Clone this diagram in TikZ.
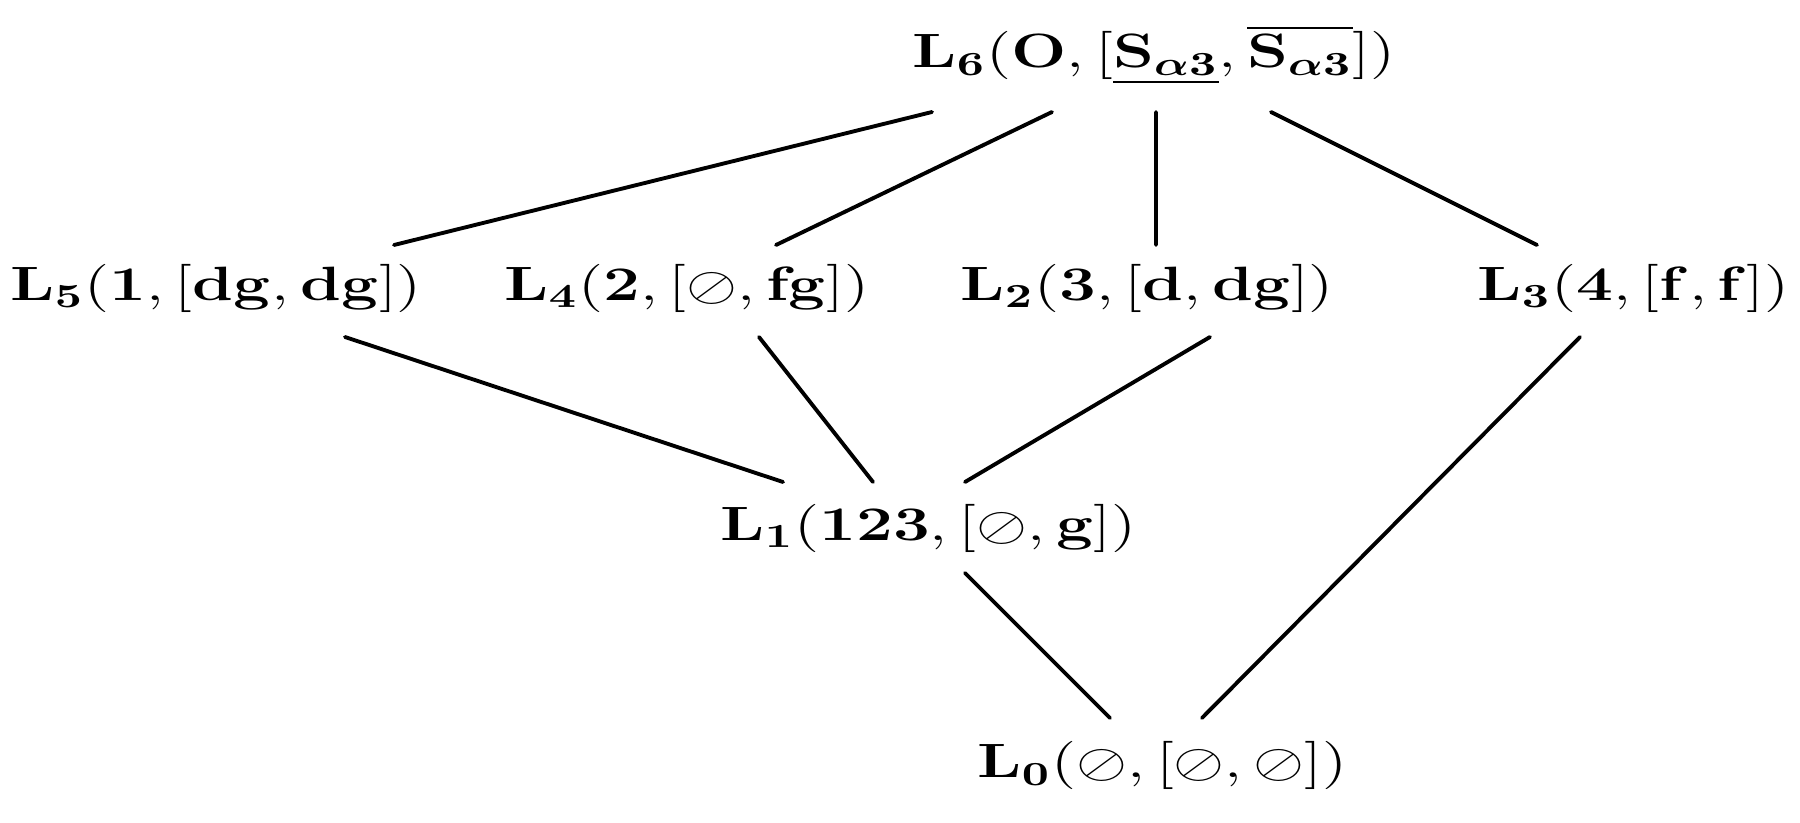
\RequirePackage{fix-cm}
\documentclass[tikz,border=0pt]{standalone}
\usepackage{amsmath,amssymb,bm}
\usepackage{graphicx}
\newcommand{\latlabel}[1]{\scalebox{1.36}[1]{$#1$}}

\begin{document}
\begin{tikzpicture}[
    % lattice elements
    elem/.style={anchor=base west, inner sep=0pt, font=\fontsize{13.7}{16}\selectfont},
    % cover relations
    cover/.style={line width=1.1pt, line cap=round},
]
\useasboundingbox (0,0) rectangle (18,8.22);

% === ELEMENTS (top to bottom) ===
\node[elem] (l6) at (9.12, 7.54) {\latlabel{\mathbf{L_6}(\mathbf{O},[\underline{\mathbf{S}_{\bm{\alpha}\mathbf{3}}},\overline{\mathbf{S}_{\bm{\alpha}\mathbf{3}}}])}};

\node[elem] (l5) at (0.10, 5.22) {\latlabel{\mathbf{L_5}(\mathbf{1},[\mathbf{dg},\mathbf{dg}])}};
\node[elem] (l4) at (5.04, 5.22) {\latlabel{\mathbf{L_4}(\mathbf{2},[\oslash,\mathbf{fg}])}};
\node[elem] (l2) at (9.60, 5.22) {\latlabel{\mathbf{L_2}(\mathbf{3},[\mathbf{d},\mathbf{dg}])}};
\node[elem] (l3) at (14.77, 5.22) {\latlabel{\mathbf{L_3}(\mathbf{4},[\mathbf{f},\mathbf{f}])}};

\node[elem] (l1) at (7.20, 2.82) {\latlabel{\mathbf{L_1}(\mathbf{123},[\oslash,\mathbf{g}])}};

\node[elem] (l0) at (9.77, 0.44) {\latlabel{\mathbf{L_0}(\oslash,[\oslash,\oslash])}};

% === COVER RELATIONS ===
\draw[cover] ([shift={(0.20,-0.44)}]l6.base west) -- ([shift={(3.84,0.55)}]l5.base west);
\draw[cover] ([shift={(1.40,-0.44)}]l6.base west) -- ([shift={(2.72,0.55)}]l4.base west);
\draw[cover] ([shift={(2.44,-0.44)}]l6.base west) -- ([shift={(1.96,0.55)}]l2.base west);
\draw[cover] ([shift={(3.59,-0.44)}]l6.base west) -- ([shift={(0.60,0.55)}]l3.base west);

\draw[cover] ([shift={(3.35,-0.37)}]l5.base west) -- ([shift={(0.63,0.58)}]l1.base west);
\draw[cover] ([shift={(2.55,-0.37)}]l4.base west) -- ([shift={(1.53,0.58)}]l1.base west);
\draw[cover] ([shift={(2.50,-0.37)}]l2.base west) -- ([shift={(2.45,0.58)}]l1.base west);

\draw[cover] ([shift={(2.45,-0.33)}]l1.base west) -- ([shift={(1.33,0.60)}]l0.base west);
\draw[cover] ([shift={(1.03,-0.37)}]l3.base west) -- ([shift={(2.25,0.60)}]l0.base west);

\end{tikzpicture}
\end{document}
